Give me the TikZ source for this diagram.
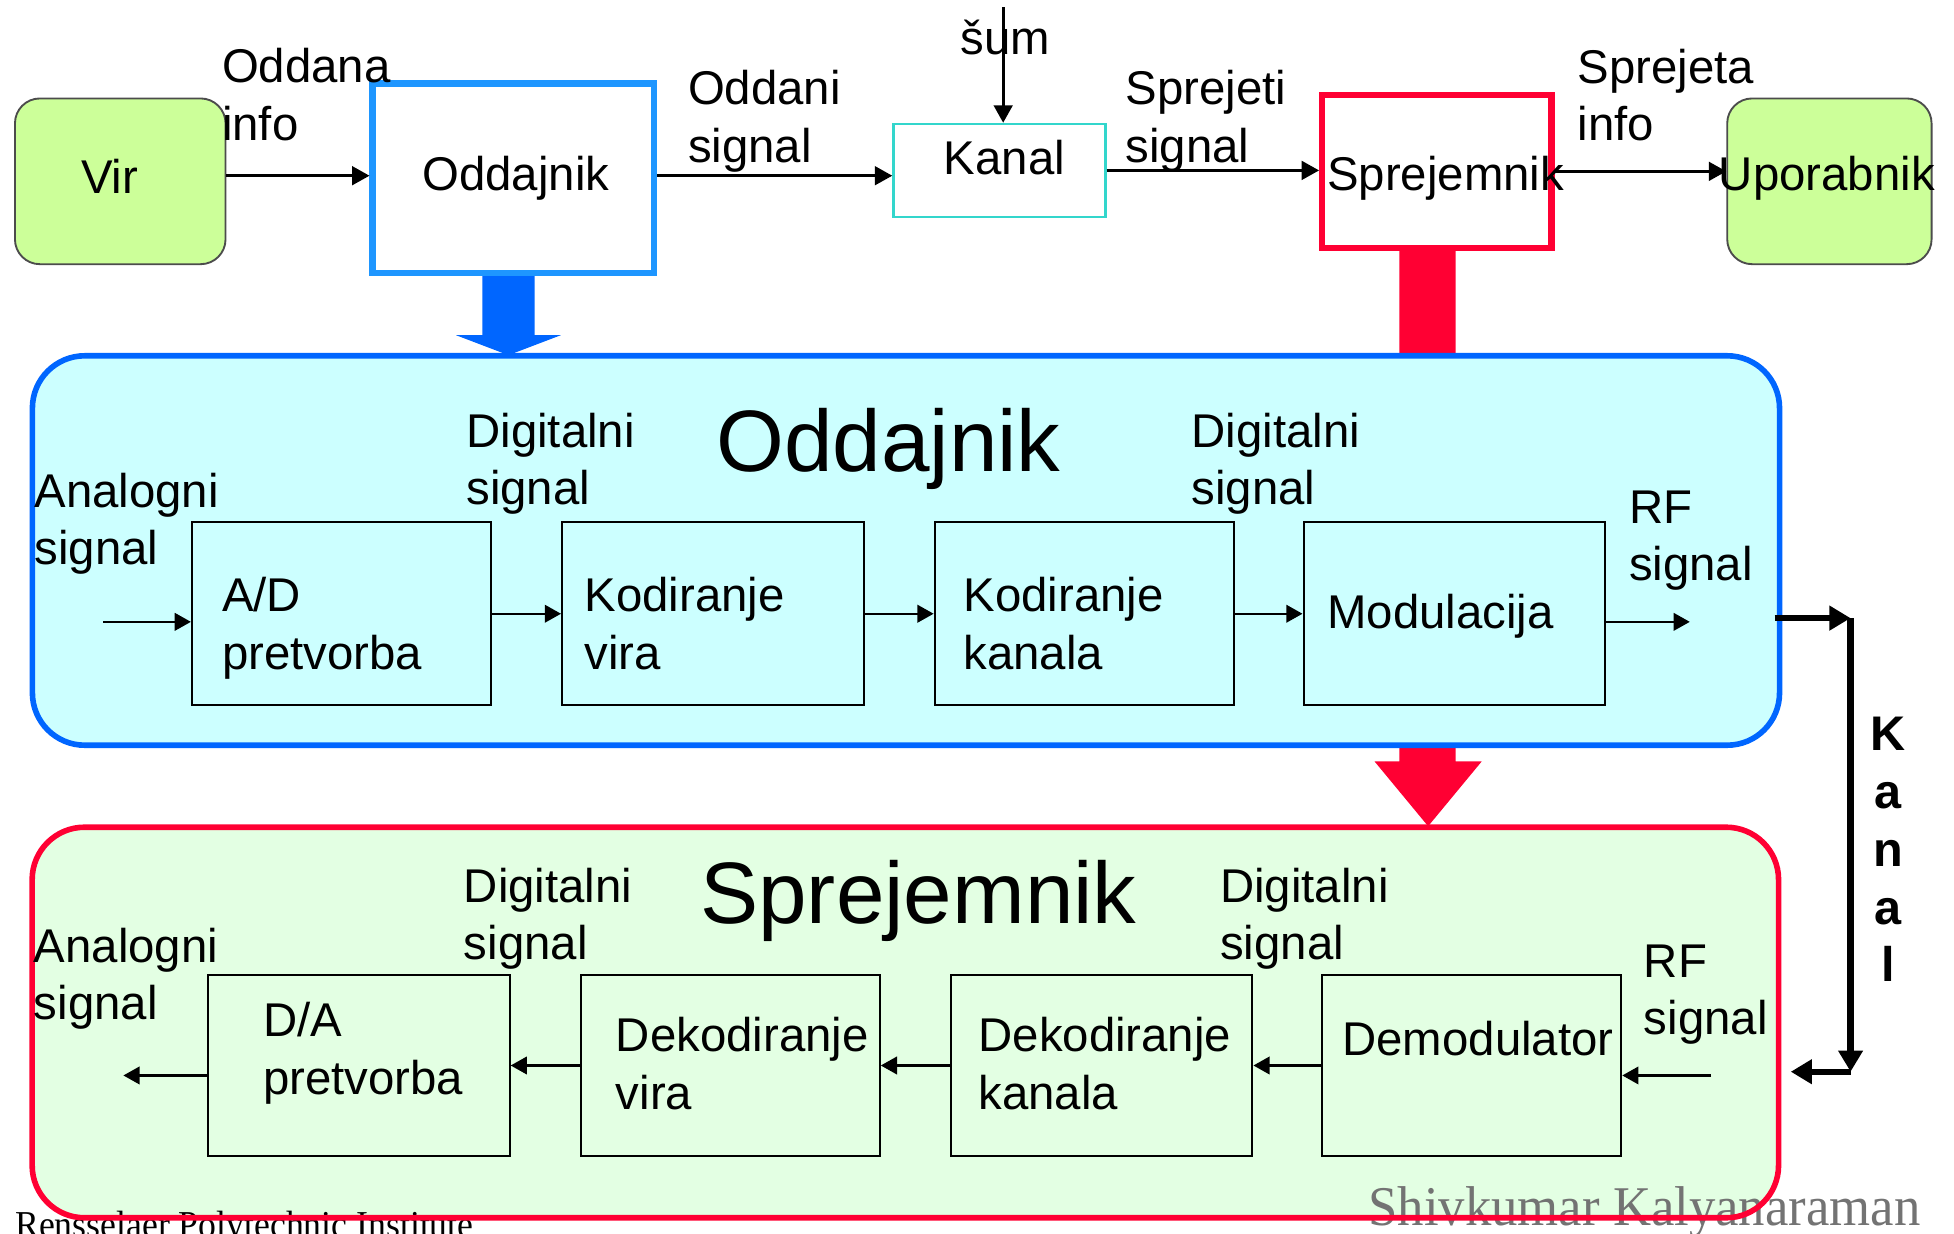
\documentclass[tikz,border=0pt]{standalone}
\usepackage{fontspec}
\setmainfont{Liberation Sans}
\newfontfamily\footserif[FakeStretch=0.94]{Liberation Serif}
\usetikzlibrary{arrows.meta}
\definecolor{vgreen}{HTML}{CCFF99}
\definecolor{oblue}{HTML}{1E96FF}
\definecolor{bblue}{HTML}{0066FF}
\definecolor{rred}{HTML}{FF0033}
\definecolor{kcyan}{HTML}{33D6CC}
\definecolor{cyanfill}{HTML}{CCFFFF}
\definecolor{greenfill}{HTML}{E3FFE3}
\begin{document}
\begin{tikzpicture}[x=1pt,y=-1pt,
  txt/.style={font=\fontsize{38}{46}\selectfont, inner sep=0pt, align=left, anchor=base west},
  ctxt/.style={font=\fontsize{38}{46}\selectfont, inner sep=0pt, anchor=base},
  title/.style={font=\fontsize{70}{80}\selectfont, inner sep=0pt, anchor=base},
  greenbox/.style={draw=black!70, line width=1.5pt, fill=vgreen, rounded corners=20pt, inner sep=0pt},
  blk/.style={draw=black, line width=1.6pt, inner sep=0pt},
  tarr/.style={line width=2.2pt, -{Triangle[length=14pt,width=15pt]}},
  marr/.style={line width=2pt, -{Triangle[length=13pt,width=14pt]}},
  karr/.style={line width=5pt, -{Triangle[length=17pt,width=19pt]}},
]
\useasboundingbox (0,0) rectangle (1568,990);
\clip (0,0) rectangle (1568,990);
\fill[white] (0,0) rectangle (1568,990);

% fat arrows
\fill[rred] (1123,199) -- (1168,199) -- (1168,611) -- (1189,611) -- (1146,663) -- (1103,611) -- (1123,611) -- cycle;
\fill[bblue] (387,219) -- (429,219) -- (429,269) -- (450,269) -- (408,285) -- (366,269) -- (387,269) -- cycle;

% top row
\node[greenbox, minimum width=169pt, minimum height=133pt] (vir) at (96.5,145.5) {};
\node[draw=oblue, line width=5pt, fill=white, inner sep=0pt, minimum width=226pt, minimum height=152pt] (odd) at (412,143) {};
\node[draw=kcyan, line width=2pt, fill=white, inner sep=0pt, minimum width=170pt, minimum height=74.5pt] (kanal) at (802,136.75) {};
\node[draw=rred, line width=5pt, fill=white, inner sep=0pt, minimum width=184pt, minimum height=123pt] (sp) at (1153,137.5) {};
\node[greenbox, minimum width=164pt, minimum height=133pt] (up) at (1468,145.5) {};

\node[ctxt] (t-vir) at (88,155) {Vir};
\node[ctxt] (t-odd) at (414,153) {Oddajnik};
\node[ctxt] (t-kanal) at (806,140) {Kanal};
\node[ctxt] (t-sp) at (1160,152.5) {Sprejemnik};
\node[ctxt] (t-up) at (1466,152.5) {Uporabnik};
\node[txt] (t-oddana) at (178,112.5) {Oddana\\info};
\node[txt] (t-oddani) at (552,130) {Oddani\\signal};
\node[ctxt] (t-sum) at (807,44) {šum};
\node[txt] (t-sprejeti) at (903,130) {Sprejeti\\signal};
\node[txt] (t-sprejeta) at (1266,113) {Sprejeta\\info};

\coordinate (a1) at ([yshift=4.5pt]vir.east);
\draw[tarr] (a1) -- (a1 -| odd.west);
\coordinate (a2) at ([yshift=2pt]odd.east);
\draw[tarr] (a2) -- (a2 -| kanal.west);
\draw[tarr] (kanal.east) -- (kanal.east -| sp.west);
\draw[tarr] (sp.east) -- (sp.east -| up.west);
\coordinate (sumtop) at (805,6);
\draw[tarr] (sumtop) -- (sumtop |- kanal.north);

% Oddajnik section
\node[draw=bblue, line width=4.5pt, fill=cyanfill, rounded corners=42pt, inner sep=0pt, minimum width=1402pt, minimum height=312.5pt] (tx) at (727,441.75) {};
\node[title] (t-txtitle) at (713,378) {Oddajnik};
\node[txt] (t-an1) at (27.5,453) {Analogni\\signal};
\node[txt] (t-dg1) at (374,405) {Digitalni\\signal};
\node[txt] (t-dg2) at (956,405) {Digitalni\\signal};
\node[txt] (t-rf1) at (1307,466) {RF\\signal};

\node[blk, minimum width=240pt, minimum height=147pt] (ad) at (274,492.5) {};
\node[blk, minimum width=242pt, minimum height=147pt] (kv) at (572,492.5) {};
\node[blk, minimum width=240pt, minimum height=147pt] (kk) at (870,492.5) {};
\node[blk, minimum width=242pt, minimum height=147pt] (mod) at (1167,492.5) {};
\node[txt] (t-ad) at (178,537) {A/D\\pretvorba};
\node[txt] (t-kv) at (469,537) {Kodiranje\\vira};
\node[txt] (t-kk) at (773,537) {Kodiranje\\kanala};
\node[txt] (t-mod) at (1065,504) {Modulacija};

\coordinate (ain) at (83,499);
\draw[marr] (ain) -- (ain -| ad.west);
\draw[marr] (ad.east) -- (kv.west);
\draw[marr] (kv.east) -- (kk.west);
\draw[marr] (kk.east) -- (mod.west);
\coordinate (rfo) at (1356,499);
\draw[marr] (rfo -| mod.east) -- (rfo);

% Sprejemnik section
\node[fill=greenfill, inner sep=0pt, rounded corners=42pt, minimum width=1401pt, minimum height=313pt] (rx) at (726.5,820.5) {};
\node[font=\footserif\fontsize{45}{50}\selectfont, text=black!55, inner sep=0pt, anchor=base west] (t-sk) at (1098,983) {Shivkumar Kalyanaraman};
\node[font=\footserif\fontsize{30.5}{34}\selectfont, text=black, inner sep=0pt, anchor=base west] (t-rpi) at (12,993) {Rensselaer Polytechnic Institute};
\draw[rred, line width=4.5pt, rounded corners=42pt] (rx.south west) rectangle (rx.north east);

\node[title] (t-rxtitle) at (737,741) {Sprejemnik};
\node[txt] (t-an2) at (27,818) {Analogni\\signal};
\node[txt] (t-dg3) at (372,770) {Digitalni\\signal};
\node[txt] (t-dg4) at (979,770) {Digitalni\\signal};
\node[txt] (t-rf2) at (1319,830) {RF\\signal};

\node[blk, minimum width=242pt, minimum height=146pt] (da) at (288,855) {};
\node[blk, minimum width=240pt, minimum height=146pt] (dv) at (586,855) {};
\node[blk, minimum width=242pt, minimum height=146pt] (dk) at (884,855) {};
\node[blk, minimum width=240pt, minimum height=146pt] (dm) at (1181,855) {};
\node[txt] (t-da) at (211,878) {D/A\\pretvorba};
\node[txt] (t-dv) at (494,890) {Dekodiranje\\vira};
\node[txt] (t-dk) at (785,890) {Dekodiranje\\kanala};
\node[txt] (t-dm) at (1077,847) {Demodulator};

\coordinate (rfi) at (1373,863);
\draw[marr] (rfi) -- (rfi -| dm.east);
\draw[marr] (dm.west) -- (dk.east);
\draw[marr] (dk.west) -- (dv.east);
\draw[marr] (dv.west) -- (da.east);
\coordinate (aout) at (99,863);
\draw[marr] (aout -| da.west) -- (aout);

% Kanal link
\coordinate (k1) at (1424,496);
\coordinate (k2) at (1485,496);
\coordinate (k3) at (1485,860);
\coordinate (k4) at (1437,860);
\draw[karr] (k1) -- (k2);
\draw[karr] (k2) -- (k3);
\draw[karr] (k3) -- (k4);
\node[font=\bfseries\fontsize{39}{46.5}\selectfont, inner sep=0pt, align=center, anchor=base] (t-kv2) at (1515,788) {K\\a\\n\\a\\l};
\end{tikzpicture}
\end{document}
